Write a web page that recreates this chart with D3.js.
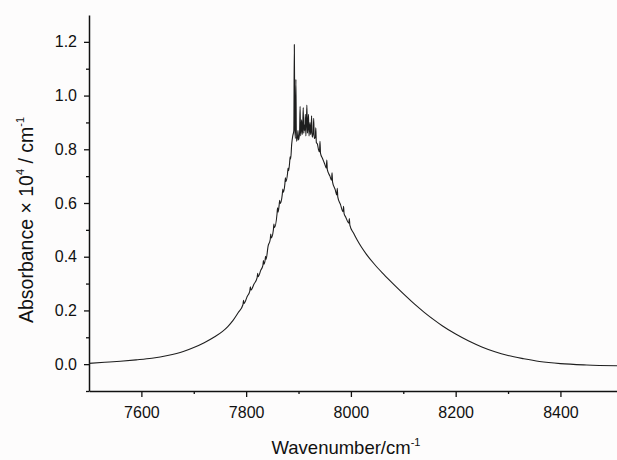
<!DOCTYPE html>
<html>
<head>
<meta charset="utf-8">
<script src="https://cdn.jsdelivr.net/npm/d3@7"></script>
<style>
  body { margin: 0; background: #fdfcfc; }
  svg { display: block; font-family: "Liberation Sans", Arial, sans-serif; }
</style>
</head>
<body>
<div id="graph"></div>
<script>
// spectrum: wavenumber (cm-1) and absorbance (x10^4 cm-1)
var wavenumber = [
  7500, 7530, 7560, 7590, 7620, 7650, 7680, 7700, 7720, 7740, 7755, 7765, 7775, 7785,
  7794, 7795, 7796, 7802, 7807, 7808, 7809, 7815, 7821, 7822, 7823, 7828, 7832, 7833, 7834,
  7836, 7837, 7838, 7842, 7846, 7847, 7848, 7852, 7853, 7854, 7859, 7860, 7861, 7863, 7864,
  7865, 7869, 7870, 7871, 7874, 7875, 7876, 7879, 7880, 7881, 7883, 7884, 7885, 7887, 7889,
  7891, 7892, 7893, 7894, 7895, 7896, 7898, 7899, 7900, 7902, 7903, 7904, 7905, 7906, 7907,
  7908, 7909, 7910, 7911, 7912, 7913, 7914, 7915, 7916, 7917, 7918, 7919, 7920, 7921, 7922,
  7923, 7924, 7925, 7926, 7928, 7929, 7930, 7932, 7933, 7934, 7936, 7938, 7940, 7941, 7942,
  7946, 7950, 7953, 7954, 7955, 7960, 7963, 7964, 7965, 7970, 7973, 7974, 7975, 7980, 7985,
  7986, 7987, 7990, 7996, 7997, 7998, 8005, 8012, 8020, 8030, 8045, 8060, 8075, 8090, 8105,
  8120, 8140, 8160, 8175, 8200, 8225, 8250, 8275, 8300, 8330, 8360, 8400, 8450, 8508
];
var absorbance = [
  0.003, 0.007, 0.011, 0.016, 0.022, 0.032, 0.047, 0.062, 0.080, 0.102, 0.122, 0.140, 0.163, 0.192,
  0.222, 0.238, 0.226, 0.252, 0.272, 0.288, 0.276, 0.298, 0.322, 0.338, 0.326, 0.350, 0.368, 0.386, 0.372,
  0.384, 0.402, 0.390, 0.440, 0.464, 0.484, 0.470, 0.500, 0.522, 0.508, 0.560, 0.582, 0.566, 0.592, 0.610,
  0.598, 0.632, 0.652, 0.640, 0.672, 0.694, 0.680, 0.710, 0.730, 0.720, 0.750, 0.772, 0.764, 0.820, 0.850,
  0.870, 1.190, 0.880, 0.840, 1.060, 0.830, 0.845, 0.870, 0.835, 0.860, 0.960, 0.850, 0.880, 0.910, 0.855,
  0.880, 0.955, 0.860, 0.890, 0.870, 0.930, 0.850, 0.900, 0.965, 0.860, 0.885, 0.930, 0.850, 0.875, 0.900,
  0.855, 0.870, 0.925, 0.845, 0.860, 0.915, 0.840, 0.845, 0.880, 0.825, 0.820, 0.800, 0.790, 0.830, 0.785,
  0.765, 0.745, 0.730, 0.760, 0.724, 0.700, 0.685, 0.712, 0.678, 0.650, 0.630, 0.655, 0.622, 0.595, 0.568,
  0.588, 0.560, 0.548, 0.525, 0.542, 0.518, 0.488, 0.462, 0.436, 0.408, 0.372, 0.340, 0.310, 0.281, 0.253,
  0.226, 0.193, 0.163, 0.142, 0.112, 0.086, 0.064, 0.046, 0.032, 0.020, 0.010, 0.002, -0.003, -0.006
];
var xTicks = [7600, 7800, 8000, 8200, 8400];
var xMinorTicks = [7700, 7900, 8100, 8300];
var yTicks = [0.0, 0.2, 0.4, 0.6, 0.8, 1.0, 1.2];
var yMinorTicks = [-0.1, 0.1, 0.3, 0.5, 0.7, 0.9, 1.1];

drawGraph();

function drawGraph(){
  var width = 617, height = 460;
  var left = 89, bottom = 391, top = 15;
  var svg = d3.select('#graph').append('svg').attr('width', width).attr('height', height);

  var x = d3.scaleLinear().domain([7500, 8508]).range([left, width]);
  var y = d3.scaleLinear().domain([-0.1, 1.3]).range([bottom, top]);

  // minor ticks first, then the labelled ones
  svg.append('g').attr('transform', 'translate(0,' + bottom + ')')
    .call(d3.axisBottom(x).tickValues(xMinorTicks).tickSize(3).tickFormat(''))
    .call(function(g){ g.select('.domain').remove(); });
  var xAxis = svg.append('g').attr('class', 'axis').attr('transform', 'translate(0,' + bottom + ')')
    .call(d3.axisBottom(x).tickValues(xTicks).tickSize(6).tickPadding(10).tickFormat(d3.format('d')).tickSizeOuter(0));

  svg.append('g').attr('transform', 'translate(' + left + ',0)')
    .call(d3.axisLeft(y).tickValues(yMinorTicks).tickSize(3).tickFormat(''))
    .call(function(g){ g.select('.domain').remove(); });
  var yAxis = svg.append('g').attr('class', 'axis').attr('transform', 'translate(' + left + ',0)')
    .call(d3.axisLeft(y).tickValues(yTicks).tickSize(5).tickPadding(7).tickFormat(d3.format('.1f')).tickSizeOuter(0));

  svg.selectAll('.tick line').attr('stroke', '#111').attr('stroke-width', 1.3);
  svg.selectAll('.domain').attr('stroke', '#111').attr('stroke-width', 1.5);
  xAxis.selectAll('text').attr('font-size', 16).attr('fill', '#111').attr('font-family', '"Liberation Sans", Arial, sans-serif');
  yAxis.selectAll('text').attr('font-size', 16).attr('fill', '#111').attr('font-family', '"Liberation Sans", Arial, sans-serif');

  var points = wavenumber.map(function(d, i){ return [d, absorbance[i]]; });
  var line = d3.line().curve(d3.curveMonotoneX)
    .x(function(d){ return x(d[0]); }).y(function(d){ return y(d[1]); });
  svg.append('path').datum(points)
    .attr('d', line)
    .attr('fill', 'none')
    .attr('stroke', '#1e1e1e')
    .attr('stroke-width', 1.1)
    .attr('stroke-linejoin', 'round');

  // axis titles
  var xTitle = svg.append('text').attr('x', 346).attr('y', 454)
    .attr('text-anchor', 'middle').attr('font-size', 18.5).attr('fill', '#111');
  xTitle.append('tspan').text('Wavenumber/cm');
  xTitle.append('tspan').attr('font-size', 11).attr('dy', -8).text('-1');

  var yTitle = svg.append('text')
    .attr('transform', 'translate(33,220) rotate(-90)')
    .attr('text-anchor', 'middle').attr('font-size', 19.5).attr('fill', '#111');
  yTitle.append('tspan').text('Absorbance \u00d7 10');
  yTitle.append('tspan').attr('font-size', 11).attr('dy', -9).text('4');
  yTitle.append('tspan').attr('dy', 9).text(' / cm');
  yTitle.append('tspan').attr('font-size', 11).attr('dy', -9).text('-1');
}
</script>
</body>
</html>
